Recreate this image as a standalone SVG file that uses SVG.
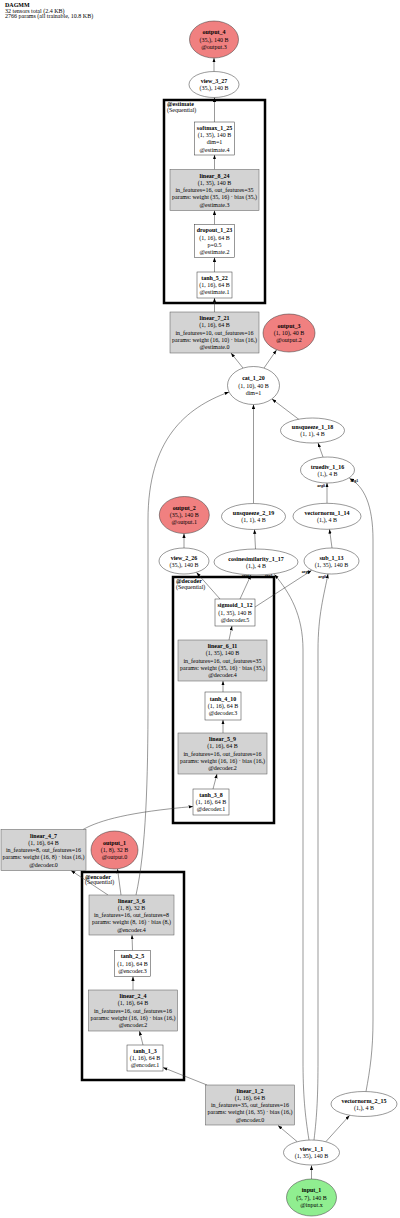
<svg xmlns="http://www.w3.org/2000/svg" width="400" height="1218" viewBox="0 0 400 1218">
<style>
text{font-family:"Liberation Serif","Times New Roman",serif;font-size:6px;fill:#000;text-anchor:middle}
.b{font-weight:bold}
.l{text-anchor:start}
.a{font-size:4px;font-weight:bold}
.ae{font-size:4px;font-weight:bold;text-anchor:end}
.as{font-size:4px;font-weight:bold;text-anchor:start}
.n{fill:#fff;stroke:#333;stroke-width:0.5}
.g{fill:#d3d3d3;stroke:#555;stroke-width:0.5}
.o{fill:#f08080;stroke:#333;stroke-width:0.5}
.i{fill:#90ee90;stroke:#333;stroke-width:0.5}
.c{fill:none;stroke:#000;stroke-width:2.5}
.e{fill:none;stroke:#333;stroke-width:0.5;marker-end:url(#ah)}
</style>
<defs>
<marker id="ah" markerUnits="userSpaceOnUse" markerWidth="5" markerHeight="4" refX="4.4" refY="1.6" orient="auto">
<path d="M0,0 L4.4,1.6 L0,3.2 z" fill="#000"/>
</marker>
</defs>
<rect width="400" height="1218" fill="#fff"/>
<g id="title">
<text class="b l" x="5" y="7">DAGMM</text>
<text class="l" x="5" y="12.7">32 tensors total (2.4 KB)</text>
<text class="l" x="5" y="18.3">2766 params (all trainable, 10.8 KB)</text>
</g>
<g id="cluster_estimate">
<rect class="c" x="164" y="100" width="101" height="203"/>
<text class="b l" x="167" y="106.3">@estimate</text>
<text class="l" x="167" y="111.8">(Sequential)</text>
</g>
<g id="cluster_decoder">
<rect class="c" x="173" y="577" width="101" height="246"/>
<text class="b l" x="176" y="583">@decoder</text>
<text class="l" x="176" y="588.5">(Sequential)</text>
</g>
<g id="cluster_encoder">
<rect class="c" x="82" y="872" width="102" height="208"/>
<text class="b l" x="85" y="878.7">@encoder</text>
<text class="l" x="85" y="884.2">(Sequential)</text>
</g>
<g id="edges">
<path class="e" d="M311.5,1179 L311.5,1165.5"/>
<path class="e" d="M297,1141.5 L278,1125.5"/>
<path class="e" d="M326,1141.5 L349.5,1115.5"/>
<path class="e" d="M309,1140 C305,1115 303,1095 303,1060 L303,650 C303,615 290,593 274.5,574.5"/>
<path class="e" d="M314,1140 C317,1115 318,1095 318,1060 L318,650 C318,615 324,595 328,574"/>
<path class="e" d="M366,1091.5 C370,1070 373,1050 373,1020 L373,540 C373,505 364,486 349.5,478.5"/>
<path class="e" d="M327,503.3 L327,483"/>
<path class="e" d="M332,548 L329.5,529.3"/>
<path class="e" d="M323,457 L318,443"/>
<path class="e" d="M299,419.5 L272,399"/>
<path class="e" d="M253.5,503.5 L253.5,404.5"/>
<path class="e" d="M255.5,549 L254.5,529.5"/>
<path class="e" d="M243,368 L231,353"/>
<path class="e" d="M264,368 L276.5,350"/>
<path class="e" d="M214.5,312 L214.5,298"/>
<path class="e" d="M214.5,272 L214.5,257.5"/>
<path class="e" d="M214.5,224.5 L214.5,210.5"/>
<path class="e" d="M214.5,169.5 L214.5,155"/>
<path class="e" d="M214.5,122 L214.5,97.5"/>
<path class="e" d="M214,71.5 L214,58"/>
<path class="e" d="M220,599 L196.5,572.5"/>
<path class="e" d="M240,599 L251,575"/>
<path class="e" d="M255,607 L311.5,570.5"/>
<path class="e" d="M184,548 L184,533.5"/>
<path class="e" d="M229,640 L232,626"/>
<path class="e" d="M223,692 L223,681"/>
<path class="e" d="M223,733 L223,720"/>
<path class="e" d="M213,789 L217,774"/>
<path class="e" d="M83,829.5 C100,820 130,812 193,806.5"/>
<path class="e" d="M108,895 L71,870.5"/>
<path class="e" d="M121,895 L117.5,869"/>
<path class="e" d="M136,895 C146,850 148,780 148,700 L148,520 C148,440 185,408 229,392"/>
<path class="e" d="M132.5,950.5 L132,935"/>
<path class="e" d="M133,990 L133,976.5"/>
<path class="e" d="M143,1045 L139.5,1031"/>
<path class="e" d="M207,1085 L163,1067.5"/>
<text class="ae" x="249.5" y="577">arg0</text>
<text class="ae" x="272.5" y="577">arg1</text>
<text class="ae" x="309.5" y="573">arg1</text>
<text class="ae" x="326" y="577.5">arg0</text>
<text class="ae" x="325" y="487">arg0</text>
<text class="as" x="350.5" y="482">arg1</text>
</g>
<g id="output_4">
<ellipse class="o" cx="214" cy="39.5" rx="24.5" ry="18.5"/>
<text class="b" x="214" y="34.3">output_4</text>
<text x="214" y="41.6">(35,), 140 B</text>
<text x="214" y="48.9">@output.3</text>
</g>
<g id="view_3_27">
<ellipse class="n" cx="214" cy="84.5" rx="25" ry="13"/>
<text class="b" x="214" y="83">view_3_27</text>
<text x="214" y="90.3">(35,), 140 B</text>
</g>
<g id="softmax_1_25">
<rect class="n" x="194.5" y="122" width="40" height="33"/>
<text class="b" x="214.5" y="129.7">softmax_1_25</text>
<text x="214.5" y="137">(1, 35), 140 B</text>
<text x="214.5" y="144.3">dim=1</text>
<text x="214.5" y="151.6">@estimate.4</text>
</g>
<g id="linear_8_24">
<rect class="g" x="170" y="169.5" width="89" height="41"/>
<text class="b" x="214.5" y="177.5">linear_8_24</text>
<text x="214.5" y="184.8">(1, 35), 140 B</text>
<text x="214.5" y="192.1">in_features=16, out_features=35</text>
<text x="214.5" y="199.4">params: weight (35, 16) · bias (35,)</text>
<text x="214.5" y="206.7">@estimate.3</text>
</g>
<g id="dropout_1_23">
<rect class="n" x="194.5" y="224.5" width="40" height="33"/>
<text class="b" x="214.5" y="232.2">dropout_1_23</text>
<text x="214.5" y="239.5">(1, 16), 64 B</text>
<text x="214.5" y="246.8">p=0.5</text>
<text x="214.5" y="254.1">@estimate.2</text>
</g>
<g id="tanh_5_22">
<rect class="n" x="197" y="272" width="35" height="26"/>
<text class="b" x="214.5" y="279.8">tanh_5_22</text>
<text x="214.5" y="287.1">(1, 16), 64 B</text>
<text x="214.5" y="294.4">@estimate.1</text>
</g>
<g id="linear_7_21">
<rect class="g" x="170" y="312" width="89" height="41"/>
<text class="b" x="214.5" y="320">linear_7_21</text>
<text x="214.5" y="327.3">(1, 16), 64 B</text>
<text x="214.5" y="334.6">in_features=10, out_features=16</text>
<text x="214.5" y="341.9">params: weight (16, 10) · bias (16,)</text>
<text x="214.5" y="349.2">@estimate.0</text>
</g>
<g id="output_3">
<ellipse class="o" cx="289" cy="333" rx="26" ry="19"/>
<text class="b" x="289" y="327.8">output_3</text>
<text x="289" y="335.1">(1, 10), 40 B</text>
<text x="289" y="342.4">@output.2</text>
</g>
<g id="cat_1_20">
<ellipse class="n" cx="253.5" cy="385.5" rx="26" ry="19"/>
<text class="b" x="253.5" y="380.3">cat_1_20</text>
<text x="253.5" y="387.6">(1, 10), 40 B</text>
<text x="253.5" y="394.9">dim=1</text>
</g>
<g id="unsqueeze_1_18">
<ellipse class="n" cx="312.5" cy="430.5" rx="32" ry="12.5"/>
<text class="b" x="312.5" y="429">unsqueeze_1_18</text>
<text x="312.5" y="436.3">(1, 1), 4 B</text>
</g>
<g id="truediv_1_16">
<ellipse class="n" cx="327.5" cy="470" rx="27" ry="13"/>
<text class="b" x="327.5" y="468.5">truediv_1_16</text>
<text x="327.5" y="475.8">(1,), 4 B</text>
</g>
<g id="vectornorm_1_14">
<ellipse class="n" cx="327" cy="516.3" rx="34" ry="13"/>
<text class="b" x="327" y="514.8">vectornorm_1_14</text>
<text x="327" y="522.1">(1,), 4 B</text>
</g>
<g id="unsqueeze_2_19">
<ellipse class="n" cx="253.5" cy="516.5" rx="32" ry="13"/>
<text class="b" x="253.5" y="515">unsqueeze_2_19</text>
<text x="253.5" y="522.3">(1, 1), 4 B</text>
</g>
<g id="output_2">
<ellipse class="o" cx="184.3" cy="515" rx="25" ry="18.5"/>
<text class="b" x="184.3" y="509.8">output_2</text>
<text x="184.3" y="517.1">(35,), 140 B</text>
<text x="184.3" y="524.4">@output.1</text>
</g>
<g id="view_2_26">
<ellipse class="n" cx="184" cy="561" rx="25" ry="13"/>
<text class="b" x="184" y="559.5">view_2_26</text>
<text x="184" y="566.8">(35,), 140 B</text>
</g>
<g id="cosinesimilarity_1_17">
<ellipse class="n" cx="256" cy="562" rx="42" ry="13"/>
<text class="b" x="256" y="560.5">cosinesimilarity_1_17</text>
<text x="256" y="567.8">(1,), 4 B</text>
</g>
<g id="sub_1_13">
<ellipse class="n" cx="331.5" cy="561" rx="27.5" ry="13"/>
<text class="b" x="331.5" y="559.5">sub_1_13</text>
<text x="331.5" y="566.8">(1, 35), 140 B</text>
</g>
<g id="sigmoid_1_12">
<rect class="n" x="215" y="599" width="40" height="27"/>
<text class="b" x="235" y="607.3">sigmoid_1_12</text>
<text x="235" y="614.6">(1, 35), 140 B</text>
<text x="235" y="621.9">@decoder.5</text>
</g>
<g id="linear_6_11">
<rect class="g" x="178" y="640" width="89" height="41"/>
<text class="b" x="222.5" y="648">linear_6_11</text>
<text x="222.5" y="655.3">(1, 35), 140 B</text>
<text x="222.5" y="662.6">in_features=16, out_features=35</text>
<text x="222.5" y="669.9">params: weight (35, 16) · bias (35,)</text>
<text x="222.5" y="677.2">@decoder.4</text>
</g>
<g id="tanh_4_10">
<rect class="n" x="205" y="692" width="36" height="28"/>
<text class="b" x="223" y="700.8">tanh_4_10</text>
<text x="223" y="708.1">(1, 16), 64 B</text>
<text x="223" y="715.4">@decoder.3</text>
</g>
<g id="linear_5_9">
<rect class="g" x="178" y="733" width="89" height="41"/>
<text class="b" x="222.5" y="741">linear_5_9</text>
<text x="222.5" y="748.3">(1, 16), 64 B</text>
<text x="222.5" y="755.6">in_features=16, out_features=16</text>
<text x="222.5" y="762.9">params: weight (16, 16) · bias (16,)</text>
<text x="222.5" y="770.2">@decoder.2</text>
</g>
<g id="tanh_3_8">
<rect class="n" x="193" y="789" width="36" height="26"/>
<text class="b" x="211" y="796.8">tanh_3_8</text>
<text x="211" y="804.1">(1, 16), 64 B</text>
<text x="211" y="811.4">@decoder.1</text>
</g>
<g id="linear_4_7">
<rect class="g" x="1" y="829.5" width="85" height="41"/>
<text class="b" x="43.5" y="837.5">linear_4_7</text>
<text x="43.5" y="844.8">(1, 16), 64 B</text>
<text x="43.5" y="852.1">in_features=8, out_features=16</text>
<text x="43.5" y="859.4">params: weight (16, 8) · bias (16,)</text>
<text x="43.5" y="866.7">@decoder.0</text>
</g>
<g id="output_1">
<ellipse class="o" cx="114.5" cy="850" rx="23.5" ry="19"/>
<text class="b" x="114.5" y="844.8">output_1</text>
<text x="114.5" y="852.1">(1, 8), 32 B</text>
<text x="114.5" y="859.4">@output.0</text>
</g>
<g id="linear_3_6">
<rect class="g" x="89" y="895" width="85" height="40"/>
<text class="b" x="131.5" y="902.5">linear_3_6</text>
<text x="131.5" y="909.8">(1, 8), 32 B</text>
<text x="131.5" y="917.1">in_features=16, out_features=8</text>
<text x="131.5" y="924.4">params: weight (8, 16) · bias (8,)</text>
<text x="131.5" y="931.7">@encoder.4</text>
</g>
<g id="tanh_2_5">
<rect class="n" x="114.5" y="950.5" width="36" height="26"/>
<text class="b" x="132.5" y="958.3">tanh_2_5</text>
<text x="132.5" y="965.6">(1, 16), 64 B</text>
<text x="132.5" y="972.9">@encoder.3</text>
</g>
<g id="linear_2_4">
<rect class="g" x="88.5" y="990" width="89" height="41"/>
<text class="b" x="133" y="998">linear_2_4</text>
<text x="133" y="1005.3">(1, 16), 64 B</text>
<text x="133" y="1012.6">in_features=16, out_features=16</text>
<text x="133" y="1019.9">params: weight (16, 16) · bias (16,)</text>
<text x="133" y="1027.2">@encoder.2</text>
</g>
<g id="tanh_1_3">
<rect class="n" x="127" y="1045" width="36" height="26"/>
<text class="b" x="145" y="1052.8">tanh_1_3</text>
<text x="145" y="1060.1">(1, 16), 64 B</text>
<text x="145" y="1067.4">@encoder.1</text>
</g>
<g id="linear_1_2">
<rect class="g" x="205.5" y="1085" width="89" height="40"/>
<text class="b" x="250" y="1092.5">linear_1_2</text>
<text x="250" y="1099.8">(1, 16), 64 B</text>
<text x="250" y="1107.1">in_features=35, out_features=16</text>
<text x="250" y="1114.4">params: weight (16, 35) · bias (16,)</text>
<text x="250" y="1121.7">@encoder.0</text>
</g>
<g id="vectornorm_2_15">
<ellipse class="n" cx="364" cy="1104" rx="33" ry="12.5"/>
<text class="b" x="364" y="1102.5">vectornorm_2_15</text>
<text x="364" y="1109.8">(1,), 4 B</text>
</g>
<g id="view_1_1">
<ellipse class="n" cx="311.5" cy="1152.5" rx="28" ry="12.5"/>
<text class="b" x="311.5" y="1151">view_1_1</text>
<text x="311.5" y="1158.3">(1, 35), 140 B</text>
</g>
<g id="input_1">
<ellipse class="i" cx="311.5" cy="1197.5" rx="25" ry="18.5"/>
<text class="b" x="311.5" y="1192.3">input_1</text>
<text x="311.5" y="1199.6">(5, 7), 140 B</text>
<text x="311.5" y="1206.9">@input.x</text>
</g>
</svg>
